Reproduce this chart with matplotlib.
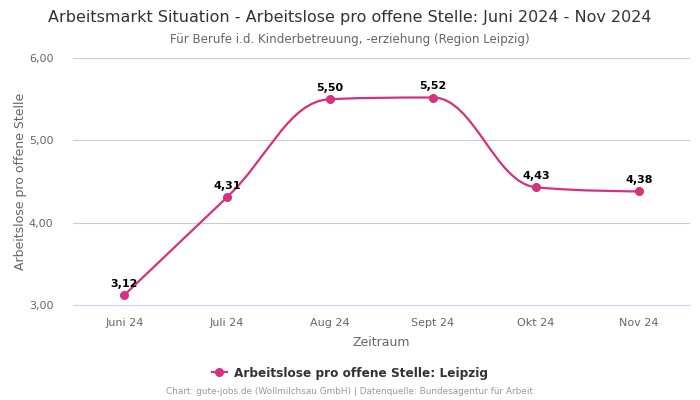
import numpy as np
import matplotlib
matplotlib.use('Agg')
from matplotlib import pyplot as plt
from matplotlib.path import Path
from matplotlib.patches import PathPatch
from matplotlib.lines import Line2D

months = ['Juni 24', 'Juli 24', 'Aug 24', 'Sept 24', 'Okt 24', 'Nov 24']
values = [3.12, 4.31, 5.50, 5.52, 4.43, 4.38]
yticks = [3.0, 4.0, 5.0, 6.0]

color = '#d4317f'


def spline_path(xs, ys, smoothing=1.5):
    # highcharts-like spline: one cubic bezier per segment
    n = len(xs)
    left = [(xs[i], ys[i]) for i in range(n)]
    right = [(xs[i], ys[i]) for i in range(n)]
    d = smoothing + 1
    for i in range(1, n - 1):
        x, y = xs[i], ys[i]
        lx, ly = xs[i - 1], ys[i - 1]
        nx, ny = xs[i + 1], ys[i + 1]
        lcx = (smoothing * x + lx) / d
        lcy = (smoothing * y + ly) / d
        rcx = (smoothing * x + nx) / d
        rcy = (smoothing * y + ny) / d
        if rcx != lcx:
            corr = (rcy - lcy) * (rcx - x) / (rcx - lcx) + y - rcy
            lcy += corr
            rcy += corr
        if lcy > ly and lcy > y:
            lcy = max(ly, y); rcy = 2 * y - lcy
        elif lcy < ly and lcy < y:
            lcy = min(ly, y); rcy = 2 * y - lcy
        if rcy > ny and rcy > y:
            rcy = max(ny, y); lcy = 2 * y - rcy
        elif rcy < ny and rcy < y:
            rcy = min(ny, y); lcy = 2 * y - rcy
        left[i] = (lcx, lcy)
        right[i] = (rcx, rcy)
    verts = [(xs[0], ys[0])]
    codes = [Path.MOVETO]
    for i in range(1, n):
        verts += [right[i - 1], left[i], (xs[i], ys[i])]
        codes += [Path.CURVE4] * 3
    return Path(verts, codes)


fig = plt.figure(figsize=(7, 4), dpi=100)
ax = fig.add_axes([0.104, 0.2375, 0.882, 0.6175])

xs = np.arange(len(months))
ax.add_patch(PathPatch(spline_path(list(xs), values), facecolor='none',
                       edgecolor=color, lw=1.6, zorder=3))
ax.plot(xs, values, 'o', color=color, ms=5.5, zorder=4)

for x, v in zip(xs, values):
    ax.annotate(f'{v:.2f}'.replace('.', ','), (x, v), xytext=(0, 4.5),
                textcoords='offset points', ha='center', va='bottom',
                fontsize=8, fontweight='bold', color='black', zorder=5)

ax.set_xlim(-0.5, len(months) - 0.5)
ax.set_ylim(3.0, 6.0)
ax.set_xticks(xs)
ax.set_xticklabels(months)
ax.set_yticks(yticks)
ax.set_yticklabels([f'{t:.2f}'.replace('.', ',') for t in yticks])
ax.tick_params(axis='both', length=0, labelsize=8, labelcolor='#666666')
ax.tick_params(axis='x', pad=9)
ax.tick_params(axis='y', pad=14)
ax.grid(axis='y', color='#cccccc', lw=0.8)
ax.set_axisbelow(True)
for s in ['top', 'right', 'left']:
    ax.spines[s].set_visible(False)
ax.spines['bottom'].set_color('#ccd6eb')
ax.spines['bottom'].set_linewidth(0.8)

ax.set_xlabel('Zeitraum', fontsize=9, color='#666666', labelpad=6)
ax.set_ylabel('Arbeitslose pro offene Stelle', fontsize=9, color='#666666', labelpad=1)

fig.text(0.5, 0.957, 'Arbeitsmarkt Situation - Arbeitslose pro offene Stelle: Juni 2024 - Nov 2024',
         ha='center', va='center', fontsize=11.5, color='#333333')
fig.text(0.5, 0.902, 'Für Berufe i.d. Kinderbetreuung, -erziehung (Region Leipzig)',
         ha='center', va='center', fontsize=8.6, color='#666666')

handle = Line2D([], [], color=color, marker='o', ms=5.5, lw=1.6)
fig.legend([handle], ['Arbeitslose pro offene Stelle: Leipzig'], loc='center',
           bbox_to_anchor=(0.5, 0.067), frameon=False, handlelength=1.2,
           handletextpad=0.6, prop={'size': 8.7, 'weight': 'bold'}, labelcolor='#333333')

fig.text(0.5, 0.02, 'Chart: gute-jobs.de (Wollmilchsau GmbH) | Datenquelle: Bundesagentur für Arbeit',
         ha='center', va='center', fontsize=6.4, color='#999999')

fig.savefig('out.png', dpi=100)
